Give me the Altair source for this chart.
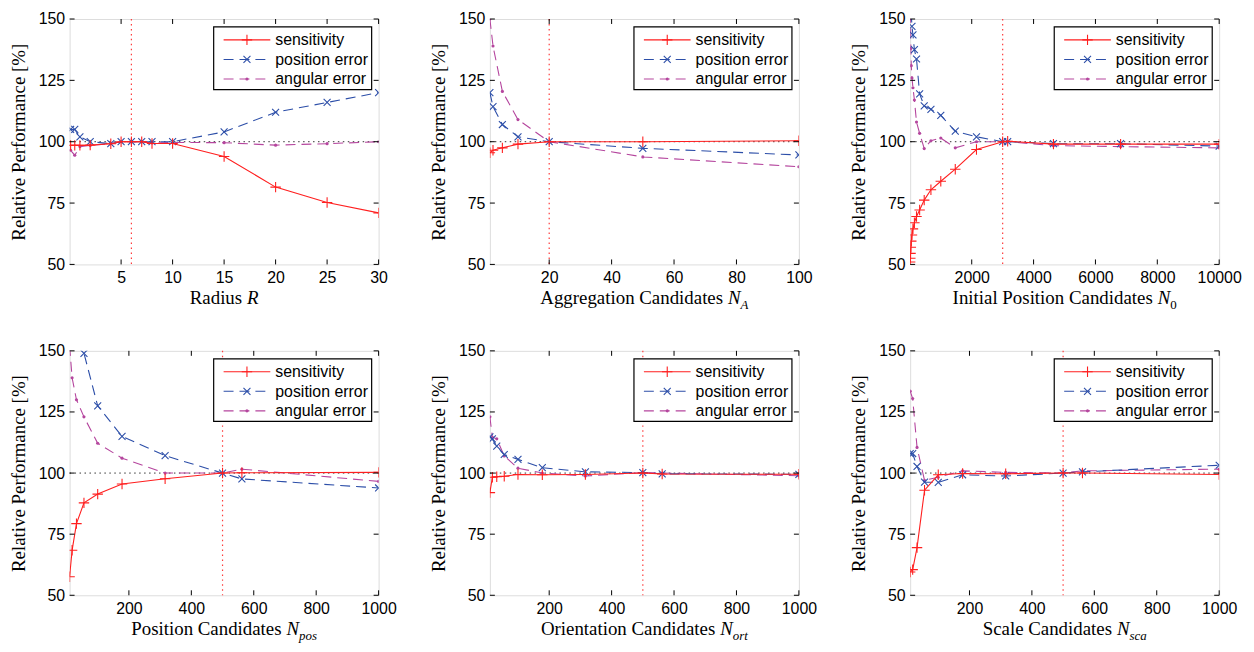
import altair as alt
import pandas as pd

# ---------------- data ----------------
r_x = [0.1, 0.5, 1, 2, 4, 5, 6, 7, 8, 10, 15, 20, 25, 30]
r_sens = [98.5, 98.5, 98.5, 98.6, 99.2, 100, 100, 100, 99.3, 99.3, 94, 81.5, 75.2, 71]
r_pos = [105, 105, 102, 100, 99.2, 100, 100, 100, 100, 100, 104, 112, 116, 120]
r_ang = [96.5, 94.5, 98, 98.5, 99.2, 100, 100, 100, 99.5, 99.7, 99.6, 98.6, 99.2, 100]

na_x = [1, 2, 5, 10, 20, 50, 100]
na_sens = [95.5, 96.5, 97.5, 99, 100, 100, 100.4]
na_pos = [120, 114.3, 107, 102, 100, 97.3, 94.6]
na_ang = [150, 139, 120.5, 109, 100, 93.8, 89.8]

n0_x = [10, 15, 22, 32, 46, 68, 100, 147, 215, 316, 464, 681, 1000, 1468, 2154,
        3000, 3162, 4642, 6813, 10000]
n0_sens = [51, 52.5, 54.5, 57, 59.5, 62, 64.5, 67, 69.5, 72.2, 76.2, 80.4, 83.9,
           88.8, 96.8, 100, 100.2, 99, 99, 99]
n0_pos = [185, 175, 165, 158, 152, 147, 143.5, 137.5, 133.7, 119.5, 114.6, 113.2,
          110.7, 104.3, 102, 100, 100, 99.2, 99.2, 98.2]
n0_ang = [172, 162, 150, 138, 131, 126, 122, 117, 108, 103.4, 97.2, 100.4, 101.5,
          97.5, 100, 100, 100, 98.4, 98, 97.5]

c_x = [10, 18, 32, 56, 100, 178, 316, 500, 562, 1000]

npos_sens = [57.6, 68.4, 79.3, 87.8, 91.4, 95.5, 97.7, 100, 100.1, 100.3]
npos_pos = [200, 180, 162, 149, 127.5, 115, 107.1, 100, 97.6, 93.9]
npos_ang = [152, 139, 130, 123, 112.2, 106.1, 100, 100, 101.6, 96.6]

nort_sens = [92, 98.3, 98.5, 98.7, 99.4, 99.3, 99.4, 100, 99.6, 99.5]
nort_pos = [114.8, 114, 111, 107.6, 105.6, 102.2, 100.5, 100.2, 99.7, 99.5]
nort_ang = [123, 114.6, 114, 107, 102, 100, 98.8, 100.2, 100, 98.9]

nsca_sens = [59.5, 60.5, 69.5, 93, 99.3, 99.8, 99.7, 100, 100, 99.4]
nsca_pos = [108, 108, 102.7, 96.3, 96.2, 99.3, 98.8, 100, 100.5, 103.2]
nsca_ang = [133.5, 130.5, 110.5, 97, 98.3, 100.9, 100.3, 100, 100.9, 101.6]

y_ticks = [50, 75, 100, 125, 150]
series_names = ["sensitivity", "position error", "angular error"]

# ---------------- style ----------------
SENS_C = "#ff1f1f"
POS_C = "#2c4ea8"
ANG_C = "#b5469e"
VLINE_C = "#ff3b3b"
W = 311
H1 = 247
H2 = 246
SANS = "Liberation Sans"
SERIF = "Liberation Serif"
FS_TICK = 16
FS_TITLE = 19
FS_LEG = 16
PLUS = "M-1,0L1,0M0,-1L0,1"
XMARK = "M-1,-1L1,1M-1,1L1,-1"

TIMES_R = {' ': 0.25, 'A': 0.722, 'C': 0.667, 'I': 0.333, 'O': 0.722, 'P': 0.556,
           'R': 0.667, 'S': 0.556, 'a': 0.444, 'c': 0.444, 'd': 0.5, 'e': 0.444,
           'g': 0.5, 'i': 0.278, 'l': 0.278, 'n': 0.5, 'o': 0.5, 'p': 0.5, 'r': 0.333,
           's': 0.389, 't': 0.278, 'u': 0.5, '0': 0.5}
TIMES_I = {'N': 0.667, 'R': 0.611, 'A': 0.611, 'p': 0.5, 'o': 0.5, 's': 0.389,
           'r': 0.389, 't': 0.278, 'c': 0.444, 'a': 0.5, '0': 0.5}


def tw(s, table, size):
    return sum(table.get(ch, 0.5) for ch in s) * size


ONE = pd.DataFrame({"k": [0]})


def panel(xs, sens, pos, ang, xdom, xticks, vline, tmain, tit, tsub, sub_it, h):
    xscale = alt.Scale(domain=xdom, nice=False, zero=False)
    yscale = alt.Scale(domain=[50, 150], nice=False, zero=False)
    xaxis = alt.Axis(values=xticks, format="d", title=None, grid=False, ticks=False,
                     domain=False, labelFont=SANS, labelFontSize=FS_TICK,
                     labelColor="black", labelPadding=5, labelOverlap=False,
                     labelFlush=False)
    yaxis = alt.Axis(values=y_ticks, format="d", title="Relative Performance [%]",
                     grid=False, ticks=False, domain=False, labelFont=SANS,
                     labelFontSize=FS_TICK, labelColor="black", labelPadding=5,
                     titleFont=SERIF, titleFontSize=FS_TITLE, titleFontWeight="normal",
                     titleColor="black", titlePadding=10, labelOverlap=False,
                     labelFlush=False)
    df = pd.DataFrame({"x": xs, "sens": sens, "pos": pos, "ang": ang})
    X = alt.X("x:Q", scale=xscale, axis=xaxis)

    layers = []
    # reference lines
    layers.append(alt.Chart(pd.DataFrame({"v": [vline]})).mark_rule(
        color=VLINE_C, strokeDash=[1.5, 3.5], strokeWidth=1.2).encode(
        x=alt.X("v:Q", scale=xscale, axis=xaxis), y=alt.value(0), y2=alt.value(h)))
    layers.append(alt.Chart(pd.DataFrame({"hh": [100]})).mark_rule(
        color="#333", strokeDash=[1.5, 3.5], strokeWidth=1).encode(
        y=alt.Y("hh:Q", scale=yscale, axis=yaxis), x=alt.value(0), x2=alt.value(W)))

    base = alt.Chart(df)
    # angular error
    layers.append(base.mark_line(color=ANG_C, strokeDash=[10, 6], strokeWidth=1.1,
                                 clip=True).encode(
        x=X, y=alt.Y("ang:Q", scale=yscale, axis=yaxis)))
    layers.append(base.mark_point(shape="circle", filled=True, color=ANG_C, size=10,
                                  opacity=1, clip=True).encode(
        x=X, y=alt.Y("ang:Q", scale=yscale, axis=yaxis)))
    # position error
    layers.append(base.mark_line(color=POS_C, strokeDash=[10, 6], strokeWidth=1.1,
                                 clip=True).encode(
        x=X, y=alt.Y("pos:Q", scale=yscale, axis=yaxis)))
    layers.append(base.mark_point(shape=XMARK, filled=False, stroke=POS_C, size=49,
                                  strokeWidth=1.1, opacity=1, clip=True).encode(
        x=X, y=alt.Y("pos:Q", scale=yscale, axis=yaxis)))
    # sensitivity
    layers.append(base.mark_line(color=SENS_C, strokeWidth=1.1, clip=True).encode(
        x=X, y=alt.Y("sens:Q", scale=yscale, axis=yaxis)))
    layers.append(base.mark_point(shape=PLUS, filled=False, stroke=SENS_C, size=110,
                                  strokeWidth=1.1, opacity=1, clip=True).encode(
        x=X, y=alt.Y("sens:Q", scale=yscale, axis=yaxis)))

    # inward ticks on all four sides
    xt = alt.Chart(pd.DataFrame({"t": xticks}))
    yt = alt.Chart(pd.DataFrame({"t": y_ticks}))
    tk = dict(color="black", strokeWidth=1)
    layers.append(xt.mark_rule(**tk).encode(
        x=alt.X("t:Q", scale=xscale, axis=xaxis), y=alt.value(h), y2=alt.value(h - 5)))
    layers.append(xt.mark_rule(**tk).encode(
        x=alt.X("t:Q", scale=xscale, axis=xaxis), y=alt.value(0), y2=alt.value(5)))
    layers.append(yt.mark_rule(**tk).encode(
        y=alt.Y("t:Q", scale=yscale, axis=yaxis), x=alt.value(0), x2=alt.value(5)))
    layers.append(yt.mark_rule(**tk).encode(
        y=alt.Y("t:Q", scale=yscale, axis=yaxis), x=alt.value(W - 5), x2=alt.value(W)))

    # legend box
    bw, bh = 159, 63
    bx = W - 7 - bw
    by = 8
    layers.append(alt.Chart(ONE).mark_rect(fill="white", stroke="black",
                                           strokeWidth=1.2).encode(
        x=alt.value(bx), x2=alt.value(bx + bw), y=alt.value(by), y2=alt.value(by + bh)))
    rows = [by + 13, by + 32.7, by + 52.4]
    specs = [(SENS_C, None, "plus"), (POS_C, [10, 6], "x"), (ANG_C, [10, 6], "dot")]
    for i, (col, dash, mk) in enumerate(specs):
        rk = dict(color=col, strokeWidth=1.1)
        if dash:
            rk["strokeDash"] = dash
        layers.append(alt.Chart(ONE).mark_rule(**rk).encode(
            x=alt.value(bx + 10), x2=alt.value(bx + 57), y=alt.value(rows[i])))
        if mk == "plus":
            pm = dict(shape=PLUS, filled=False, stroke=col, size=110, strokeWidth=1.1)
        elif mk == "x":
            pm = dict(shape=XMARK, filled=False, stroke=col, size=49, strokeWidth=1.1)
        else:
            pm = dict(shape="circle", filled=True, color=col, size=10)
        layers.append(alt.Chart(ONE).mark_point(opacity=1, **pm).encode(
            x=alt.value(bx + 33.5), y=alt.value(rows[i])))
        layers.append(alt.Chart(ONE).mark_text(
            text=series_names[i], align="left", baseline="middle", font=SANS,
            fontSize=FS_LEG, color="black").encode(
            x=alt.value(bx + 62), y=alt.value(rows[i] + 0.5)))

    # x title: regular text + italic symbol + subscript
    sub_size = 13
    w_main = tw(tmain, TIMES_R, FS_TITLE)
    w_it = tw(tit, TIMES_I, FS_TITLE)
    w_sub = tw(tsub, TIMES_I if sub_it else TIMES_R, sub_size) if tsub else 0
    x0 = W / 2 - (w_main + w_it + w_sub) / 2
    ty = h + 40
    layers.append(alt.Chart(ONE).mark_text(
        text=tmain, align="left", baseline="alphabetic", font=SERIF,
        fontSize=FS_TITLE, color="black").encode(x=alt.value(x0), y=alt.value(ty)))
    layers.append(alt.Chart(ONE).mark_text(
        text=tit, align="left", baseline="alphabetic", font=SERIF, fontStyle="italic",
        fontSize=FS_TITLE, color="black").encode(x=alt.value(x0 + w_main),
                                                 y=alt.value(ty)))
    if tsub:
        sk = dict(fontStyle="italic") if sub_it else {}
        layers.append(alt.Chart(ONE).mark_text(
            text=tsub, align="left", baseline="alphabetic", font=SERIF,
            fontSize=sub_size, color="black", **sk).encode(
            x=alt.value(x0 + w_main + w_it), y=alt.value(ty + 5)))

    return alt.layer(*layers).properties(width=W, height=h)


p1 = panel(r_x, r_sens, r_pos, r_ang, [0, 30], [5, 10, 15, 20, 25, 30], 6,
           "Radius ", "R", "", False, H1)
p2 = panel(na_x, na_sens, na_pos, na_ang, [1, 100], [20, 40, 60, 80, 100], 20,
           "Aggregation Candidates ", "N", "A", True, H1)
p3 = panel(n0_x, n0_sens, n0_pos, n0_ang, [10, 10000], [2000, 4000, 6000, 8000, 10000],
           3000, "Initial Position Candidates ", "N", "0", False, H1)
p4 = panel(c_x, npos_sens, npos_pos, npos_ang, [10, 1000], [200, 400, 600, 800, 1000],
           500, "Position Candidates ", "N", "pos", True, H2)
p5 = panel(c_x, nort_sens, nort_pos, nort_ang, [10, 1000], [200, 400, 600, 800, 1000],
           500, "Orientation Candidates ", "N", "ort", True, H2)
p6 = panel(c_x, nsca_sens, nsca_pos, nsca_ang, [10, 1000], [200, 400, 600, 800, 1000],
           500, "Scale Candidates ", "N", "sca", True, H2)

chart = alt.concat(p1, p2, p3, p4, p5, p6, columns=3,
                   spacing={"row": 87, "column": 112}, bounds="flush").properties(
    padding={"left": 0, "top": 0, "right": 4, "bottom": 4}
).configure_view(stroke="black", strokeWidth=1.2).configure(background="white")

chart.save("out.html", embed_options={"renderer": "svg", "actions": False})
